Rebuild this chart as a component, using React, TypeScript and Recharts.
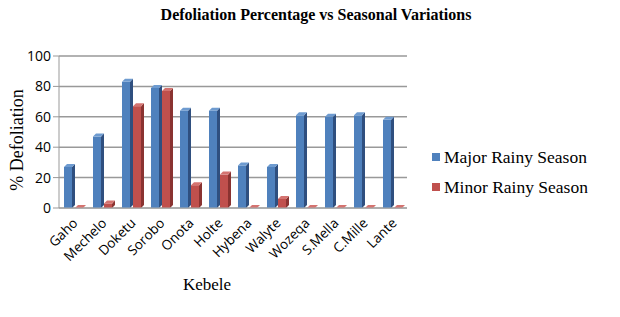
import React from "react";
import { BarChart, Bar, XAxis, YAxis, CartesianGrid } from "recharts";

const kebeles = ["Gaho", "Mechelo", "Doketu", "Sorobo", "Onota", "Holte", "Hybena", "Walyte", "Wozeqa", "S.Mella", "C.Mille", "Lante"];
const majorRainy = [27, 47, 83, 79, 64, 64, 28, 27, 61, 60, 61, 58];
const minorRainy = [0, 3, 67, 77, 15, 22, 0, 6, 0, 0, 0, 0];
const yTicks = [0, 20, 40, 60, 80, 100];

const data = kebeles.map((k, i) => ({ name: k, major: majorRainy[i], minor: minorRainy[i] }));

const serif = "'Liberation Serif', 'Times New Roman', serif";
const sans = "'Open Sans', 'Liberation Sans', Arial, sans-serif";

// 3D-ish bar: front face, darker side, lighter top
function make3D(front: string, side: string, top: string) {
  return (props: any) => {
    const { x, y, width, height } = props;
    if (x == null || y == null) return null;
    const h = Math.max(0, height || 0);
    const dx = 3;
    const dy = 3;
    return (
      <g>
        {h > 0 && <rect x={x} y={y} width={width} height={h} fill={front} />}
        {h > 0 && (
          <polygon
            points={`${x + width},${y} ${x + width + dx},${y - dy} ${x + width + dx},${y + h - dy} ${x + width},${y + h}`}
            fill={side}
          />
        )}
        <polygon
          points={`${x},${y} ${x + dx},${y - dy} ${x + width + dx},${y - dy} ${x + width},${y}`}
          fill={top}
        />
      </g>
    );
  };
}

const XTick = (props: any) => {
  const { x, y, payload } = props;
  return (
    <text
      x={x + 5}
      y={y + 8}
      transform={`rotate(-45 ${x + 5} ${y + 8})`}
      textAnchor="end"
      fontFamily={sans}
      fontSize={13.5}
      fill="#000"
    >
      {payload.value}
    </text>
  );
};

export default function App() {
  return (
    <div style={{ position: "absolute", left: 0, top: 0, width: 620, height: 317, background: "#fff" }}>
      <BarChart
        width={620}
        height={317}
        data={data}
        margin={{ top: 56, right: 213, bottom: 49, left: 0 }}
        barSize={8}
        barGap={3}
        barCategoryGap={5}
      >
        <CartesianGrid vertical={false} stroke="#999" strokeWidth={1.5} />
        <XAxis
          dataKey="name"
          interval={0}
          tick={<XTick />}
          tickLine={false}
          axisLine={{ stroke: "#aaa" }}
          height={60}
        />
        <YAxis
          domain={[0, 100]}
          ticks={yTicks}
          width={59}
          tick={{ fontFamily: sans, fontSize: 14, fill: "#000" }}
          tickLine={{ stroke: "#999" }}
          axisLine={{ stroke: "#999" }}
        />
        <Bar dataKey="major" isAnimationActive={false} shape={make3D("#4F81BD", "#2F4F7F", "#6E9BD0")} />
        <Bar dataKey="minor" isAnimationActive={false} shape={make3D("#C0504D", "#8A3331", "#D47370")} />
      </BarChart>
      <div
        style={{
          position: "absolute",
          top: 5,
          left: 0,
          width: 632,
          textAlign: "center",
          fontFamily: serif,
          fontWeight: "bold",
          fontSize: 16,
          lineHeight: "20px",
        }}
      >
        Defoliation Percentage vs Seasonal Variations
      </div>
      <div
        style={{
          position: "absolute",
          left: 2,
          top: 140,
          transform: "translate(0,-50%) rotate(-90deg)",
          transformOrigin: "center",
          width: 30,
          display: "flex",
          justifyContent: "center",
          whiteSpace: "nowrap",
          fontFamily: serif,
          fontSize: 18,
        }}
      >
        % Defoliation
      </div>
      <div
        style={{
          position: "absolute",
          left: 207,
          top: 275,
          transform: "translateX(-50%)",
          fontFamily: serif,
          fontSize: 17,
        }}
      >
        Kebele
      </div>
      <div style={{ position: "absolute", left: 432, top: 142, fontFamily: serif, fontSize: 17.5, lineHeight: "30px" }}>
        {[
          { label: "Major Rainy Season", color: "#4F81BD" },
          { label: "Minor Rainy Season", color: "#C0504D" },
        ].map((d) => (
          <div key={d.label} style={{ display: "flex", alignItems: "center" }}>
            <span style={{ width: 8, height: 8, background: d.color, marginRight: 4, display: "inline-block" }} />
            {d.label}
          </div>
        ))}
      </div>
    </div>
  );
}
